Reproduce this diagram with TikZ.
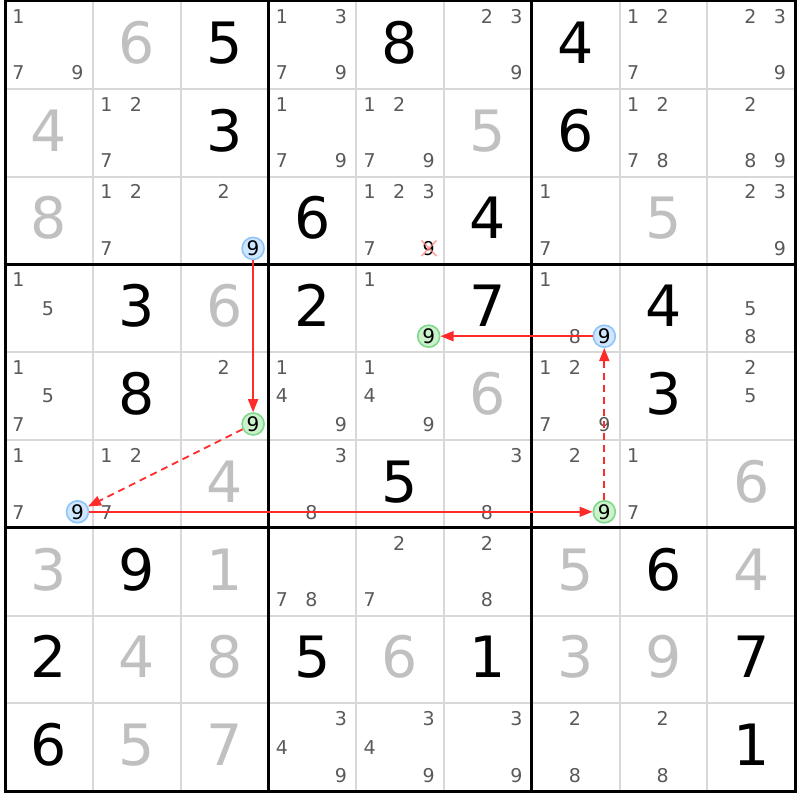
\documentclass[tikz,border=0pt]{standalone}
\usepackage{fontspec}
\setmainfont{DejaVu Sans}
\usetikzlibrary{arrows.meta}
\definecolor{thingrid}{HTML}{D8D8D8}
\definecolor{candc}{HTML}{5A5A5A}
\definecolor{solvedc}{HTML}{C0C0C0}
\definecolor{bluefill}{HTML}{CFE6FF}
\definecolor{blueedge}{HTML}{8EC4F8}
\definecolor{greenfill}{HTML}{CCF2CC}
\definecolor{greenedge}{HTML}{7FD88C}
\definecolor{linkred}{HTML}{FF2A2A}
\tikzset{
 cand/.style={anchor=base, inner sep=0pt, text=candc, font=\fontsize{19}{19}\selectfont},
 givendig/.style={anchor=base, inner sep=0pt, text=black, font=\fontsize{57}{57}\selectfont},
 solveddig/.style={givendig, text=solvedc},
 bluemark/.style={circle, draw=blueedge, fill=bluefill, line width=1.6pt, minimum size=22pt, inner sep=0pt, font=\fontsize{20}{20}\selectfont},
 greenmark/.style={bluemark, draw=greenedge, fill=greenfill},
 stronglink/.style={draw=linkred, line width=1.7pt, -{Triangle[length=13pt,width=10pt]}},
 weaklink/.style={stronglink, dash pattern=on 7pt off 5pt},
}
\newcommand{\Cand}[3]{\foreach \d in {#3}{%
 \pgfmathsetmacro\candX{5+#2*87.8+13.5+mod(\d-1,3)*29.5}%
 \pgfmathsetmacro\candY{1+#1*87.8+22.3+floor((\d-1)/3)*28.35}%
 \node[cand] (k#1#2\d) at (\candX,\candY) {\d};}}
\newcommand{\Dig}[4]{%
 \pgfmathsetmacro\digX{5+#2*87.8+43.9}%
 \pgfmathsetmacro\digY{1+#1*87.8+62.3}%
 \node[#4] (g#1#2) at (\digX,\digY) {#3};}
\newcommand{\Mark}[4]{%
 \pgfmathsetmacro\digX{5+#3*87.8+72.5}%
 \pgfmathsetmacro\digY{1+#2*87.8+79-7.2}%
 \node[#4] (#1) at (\digX,\digY) {9};}
\begin{document}
\begin{tikzpicture}[x=1pt,y=-1pt]
\fill[white] (0,0) rectangle (800,800);
\useasboundingbox (0,0) rectangle (800,800);
% thin grid
\foreach \i in {1,2,4,5,7,8}{
 \draw[thingrid, line width=2pt] ({5+\i*87.8},1) -- ({5+\i*87.8},791.2);
 \draw[thingrid, line width=2pt] (5,{1+\i*87.8}) -- (795.2,{1+\i*87.8});
}
\foreach \i in {0,3,6,9}{
 \draw[black, line width=3pt] ({5+\i*87.8},-0.5) -- ({5+\i*87.8},792.7);
 \draw[black, line width=3pt] (3.5,{1+\i*87.8}) -- (796.7,{1+\i*87.8});
}
% givens
\foreach \r/\c/\v in {0/2/5,0/4/8,0/6/4,1/2/3,1/6/6,2/3/6,2/5/4,3/1/3,3/3/2,3/5/7,3/7/4,4/1/8,4/7/3,5/4/5,6/1/9,6/7/6,7/0/2,7/3/5,7/5/1,7/8/7,8/0/6,8/8/1}{\Dig{\r}{\c}{\v}{givendig}}
\foreach \r/\c/\v in {0/1/6,1/0/4,1/5/5,2/0/8,2/7/5,3/2/6,4/5/6,5/2/4,5/8/6,6/0/3,6/2/1,6/6/5,6/8/4,7/1/4,7/2/8,7/4/6,7/6/3,7/7/9,8/1/5,8/2/7}{\Dig{\r}{\c}{\v}{solveddig}}
% candidates
\Cand{0}{0}{1,7,9}\Cand{0}{3}{1,3,7,9}\Cand{0}{5}{2,3,9}\Cand{0}{7}{1,2,7}\Cand{0}{8}{2,3,9}
\Cand{1}{1}{1,2,7}\Cand{1}{3}{1,7,9}\Cand{1}{4}{1,2,7,9}\Cand{1}{7}{1,2,7,8}\Cand{1}{8}{2,8,9}
\Cand{2}{1}{1,2,7}\Cand{2}{2}{2}\Cand{2}{4}{1,2,3,7}\Cand{2}{6}{1,7}\Cand{2}{8}{2,3,9}
\Cand{3}{0}{1,5}\Cand{3}{4}{1}\Cand{3}{6}{1,8}\Cand{3}{8}{5,8}
\Cand{4}{0}{1,5,7}\Cand{4}{2}{2}\Cand{4}{3}{1,4,9}\Cand{4}{4}{1,4,9}\Cand{4}{6}{1,2,7,9}\Cand{4}{8}{2,5}
\Cand{5}{0}{1,7}\Cand{5}{1}{1,2,7}\Cand{5}{3}{3,8}\Cand{5}{5}{3,8}\Cand{5}{6}{2}\Cand{5}{7}{1,7}
\Cand{6}{3}{7,8}\Cand{6}{4}{2,7}\Cand{6}{5}{2,8}
\Cand{8}{3}{3,4,9}\Cand{8}{4}{3,4,9}\Cand{8}{5}{3,9}\Cand{8}{6}{2,8}\Cand{8}{7}{2,8}
% eliminated candidate
\node[cand, text=black] (elim) at (428.7,255.6) {9};
\draw[red!45, opacity=0.8, line width=1.6pt] (421.5,240.5) -- (436.5,256);
\draw[red!45, opacity=0.8, line width=1.6pt] (436.5,240.5) -- (421.5,256);
% chain marks
\Mark{b1}{2}{2}{bluemark}
\Mark{g1}{4}{2}{greenmark}
\Mark{b3}{5}{0}{bluemark}
\Mark{g3}{5}{6}{greenmark}
\Mark{b2}{3}{6}{bluemark}
\Mark{g2}{3}{4}{greenmark}
% links
\draw[stronglink] (b1) -- (g1);
\draw[weaklink] (g1) -- (b3);
\draw[stronglink] (b3) -- (g3);
\draw[weaklink] (g3) -- (b2);
\draw[stronglink] (b2) -- (g2);
\end{tikzpicture}
\end{document}
